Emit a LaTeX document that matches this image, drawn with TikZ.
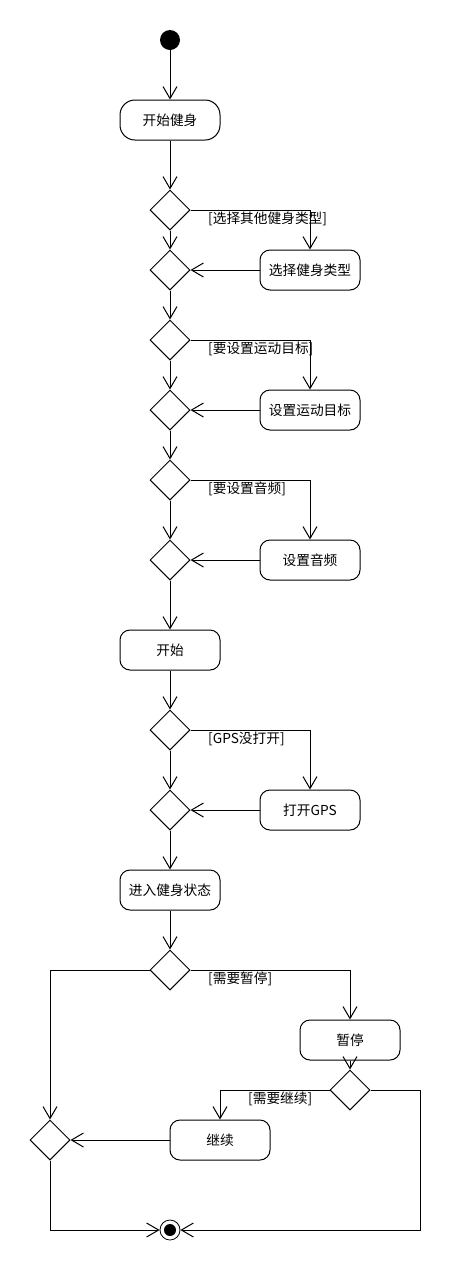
\documentclass[tikz,border=0pt]{standalone}
\usepackage{fontspec}
\newfontfamily\cjk{Noto Sans CJK SC}
\usetikzlibrary{shapes.geometric,arrows.meta}
\begin{document}
\begin{tikzpicture}[x=1pt,y=-1pt,
  every node/.style={font=\cjk\fontsize{13.7}{16}\selectfont},
  arr/.style={line width=1pt,-{Straight Barb[length=12pt,width=14pt,line width=1pt]}},
  act/.style={draw,line width=1pt,rectangle,rounded corners=10pt,minimum width=100pt,minimum height=40pt,inner sep=0pt},
  dec/.style={draw,line width=1pt,diamond,minimum width=40pt,minimum height=40pt,inner sep=0pt,aspect=1},
  guard/.style={anchor=west,inner sep=0pt}]
\useasboundingbox (0,0) rectangle (460,1270);
\fill[white] (0,0) rectangle (460,1270);

% initial and final states
\node[circle,fill=black,minimum size=20pt,inner sep=0pt] (init) at (170,40) {};
\node[circle,draw,line width=0.8pt,minimum size=20pt,inner sep=0pt] (final) at (170,1230) {};
\fill (final.center) circle (6pt);

% activities
\node[act,rounded corners=15pt] (start) at (170,120) {开始健身};
\node[act] (type)  at (310,270) {选择健身类型};
\node[act] (goal)  at (310,410) {设置运动目标};
\node[act] (audio) at (310,560) {设置音频};
\node[act] (go)    at (170,650) {开始};
\node[act] (gps)   at (310,810) {打开GPS};
\node[act] (run)   at (170,890) {进入健身状态};
\node[act] (pause) at (350,1040) {暂停};
\node[act] (cont)  at (220,1140) {继续};

% decisions and merges
\node[dec] (d1) at (170,210) {};
\node[dec] (m1) at (170,270) {};
\node[dec] (d2) at (170,340) {};
\node[dec] (m2) at (170,410) {};
\node[dec] (d3) at (170,480) {};
\node[dec] (m3) at (170,560) {};
\node[dec] (d4) at (170,730) {};
\node[dec] (m4) at (170,810) {};
\node[dec] (d5) at (170,970) {};
\node[dec] (d6) at (350,1090) {};
\node[dec] (m5) at (50,1140) {};

% guards
\node[guard] (g1) at (208,219) {[选择其他健身类型]};
\node[guard] (g2) at (208,349) {[要设置运动目标]};
\node[guard] (g3) at (208,489) {[要设置音频]};
\node[guard] (g4) at (208,739) {[GPS没打开]};
\node[guard] (g5) at (208,979) {[需要暂停]};
\node[guard] (g6) at (248,1099) {[需要继续]};

\coordinate (rc) at (420,1230);

% flows
\draw[arr] (init) -- (start);
\draw[arr] (start) -- (d1);
\draw[arr] (d1.east) -| (type.north);
\draw[arr] (d1) -- (m1);
\draw[arr] (type) -- (m1);
\draw[arr] (m1) -- (d2);
\draw[arr] (d2.east) -| (goal.north);
\draw[arr] (d2) -- (m2);
\draw[arr] (goal) -- (m2);
\draw[arr] (m2) -- (d3);
\draw[arr] (d3.east) -| (audio.north);
\draw[arr] (d3) -- (m3);
\draw[arr] (audio) -- (m3);
\draw[arr] (m3) -- (go);
\draw[arr] (go) -- (d4);
\draw[arr] (d4.east) -| (gps.north);
\draw[arr] (d4) -- (m4);
\draw[arr] (gps) -- (m4);
\draw[arr] (m4) -- (run);
\draw[arr] (run) -- (d5);
\draw[arr] (d5.east) -| (pause.north);
\draw[arr] (d5.west) -| (m5.north);
\draw[arr] (pause) -- (d6);
\draw[arr] (d6.west) -| (cont.north);
\draw[arr] (cont) -- (m5);
\draw[arr] (d6.east) -| (rc) -- (final.east);
\draw[arr] (m5.south) |- (final.west);
\end{tikzpicture}
\end{document}
